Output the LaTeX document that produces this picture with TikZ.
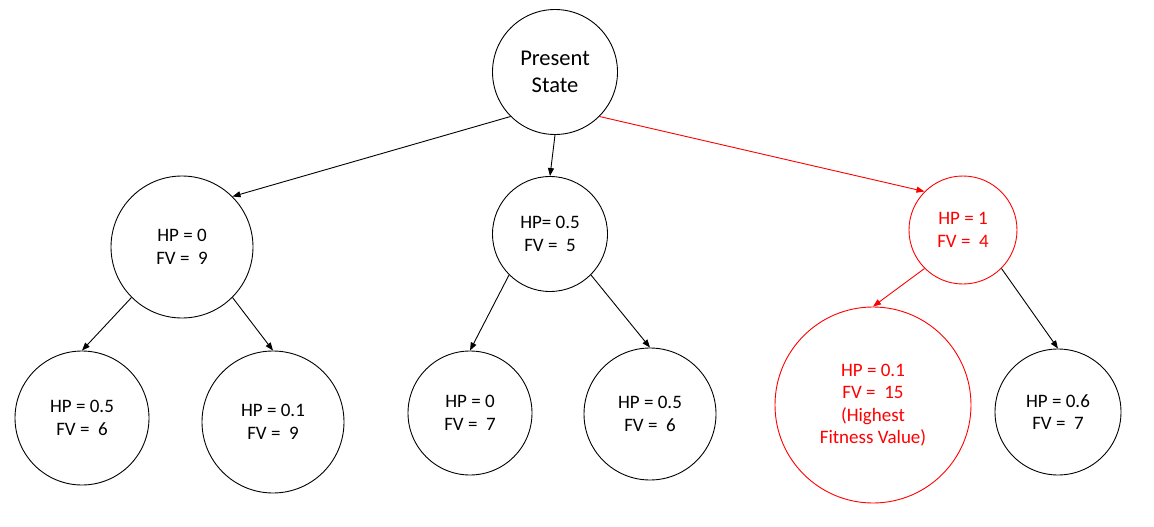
\documentclass[tikz,border=0pt]{standalone}
\usepackage{fontspec}
\setmainfont{Carlito}
\usetikzlibrary{arrows.meta}
\definecolor{hotred}{RGB}{255,0,0}
\begin{document}
\begin{tikzpicture}[x=1pt, y=-1pt,
				    font=\fontsize{19}{22.5}\selectfont,
				    state/.style={draw, circle, inner sep=0pt, line width=0.9pt,
				    			  align=center, text=black},
				    best/.style={state, draw=hotred, text=hotred},
				    >={Triangle[length=8pt, width=6pt]}, line width=0.9pt]
	\useasboundingbox (0,0) rectangle (1154,527);
	\node[state, minimum size=125, font=\fontsize{22.5}{27}\selectfont] (s0) at (555, 72) {Present\\State};
	\node[state, minimum size=142] (a1) at (182, 247) {HP = 0\\FV = \ 9};
	\node[state, minimum size=115] (a2) at (550, 234) {HP= 0.5\\FV = \ 5};
	\node[best,  minimum size=108] (a3) at (963, 230) {HP = 1\\FV = \ 4};
	\node[state, minimum size=134] (b1) at (82, 418) {HP = 0.5\\FV = \ 6};
	\node[state, minimum size=142] (b2) at (273, 422) {HP = 0.1\\FV = \ 9};
	\node[state, minimum size=124] (b3) at (470, 413) {HP = 0\\FV = \ 7};
	\node[state, minimum size=132] (b4) at (650, 414) {HP = 0.5\\FV = \ 6};
	\node[best,  minimum size=196] (b5) at (873, 405) {HP = 0.1\\FV = \ 15\\(Highest\\Fitness Value)};
	\node[state, minimum size=126] (b6) at (1058, 412) {HP = 0.6\\FV = \ 7};
	\path[->] 	(s0.south west)  edge   (a1.north east);
	\path[->] 	(s0.south)  edge   (a2.north);
	\path[->, hotred] 	(s0.south east)  edge   (a3.north west);
	\path[->] 	(a1.south west)  edge   (b1.north);
	\path[->] 	(a1.south east)  edge   (b2.north);
	\path[->] 	(a2.south west)  edge   (b3.north);
	\path[->] 	(a2.south east)  edge   (b4.north);
	\path[->, hotred] 	(a3.south west)  edge   (b5.north);
	\path[->] 	(a3.south east)  edge   (b6.north);
\end{tikzpicture}
\end{document}
